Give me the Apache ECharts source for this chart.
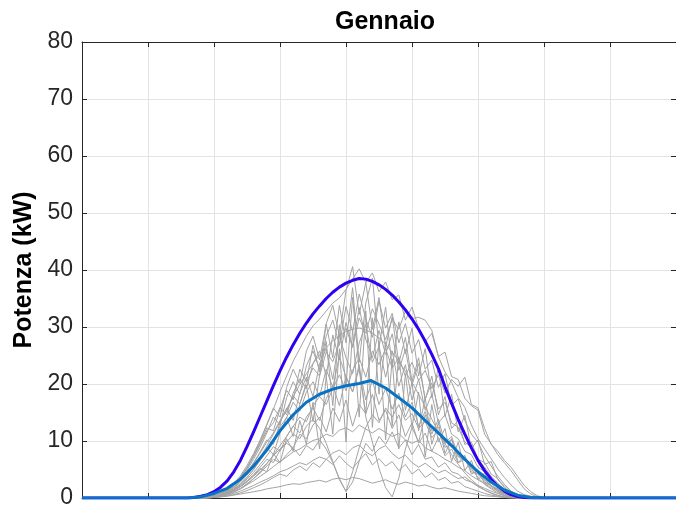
<!DOCTYPE html>
<html>
<head>
<meta charset="utf-8">
<script src="https://cdn.jsdelivr.net/npm/echarts@6/dist/echarts.min.js"></script>
<style>
  html, body { margin: 0; padding: 0; background: #fff; }
  #chart { width: 676px; height: 513px; }
</style>
</head>
<body>
<div id="chart"></div>
<script>
// x is in axis units (one grid cell = 1), y in kW
const TIME = [];
for (let i = 0; i < 57; i++) TIME.push(+(1.6 + i * 0.1).toFixed(2));

// envelope (purple), one value per TIME step from 1.6 to 6.9, then flat zero
const ENV_T = [0].concat(TIME.slice(0, 54), [9]);
const ENV_V = [0,
  0, 0.1, 0.3, 0.6, 1.1, 1.9, 3.0, 4.6, 6.6, 9.0,
  11.6, 14.3, 17.0, 19.7, 22.3, 24.7, 26.9, 28.9, 30.7, 32.3,
  33.7, 35.0, 36.1, 37.0, 37.7, 38.2, 38.5, 38.4, 38.0, 37.4,
  36.6, 35.6, 34.4, 33.0, 31.4, 29.6, 27.5, 25.2, 22.7, 19.5,
  16.6, 13.8, 11.2, 8.8, 6.6, 4.8, 3.3, 2.1, 1.2, 0.6,
  0.25, 0.08, 0.02, 0,
  0];
// mean day (blue)
const MEAN_T = [0, 1.6, 1.8, 2.0, 2.2, 2.4, 2.6, 2.8, 3.0, 3.2, 3.4, 3.6, 3.8, 4.0, 4.2, 4.38, 4.6, 4.8, 5.0, 5.2, 5.4, 5.6, 5.8, 6.0, 6.2, 6.4, 6.6, 6.8, 7.0, 9];
const MEAN_V = [0, 0, 0.2, 0.8, 1.7, 3.3, 5.6, 8.4, 11.8, 14.6, 16.8, 18.2, 19.1, 19.7, 20.1, 20.6, 19.3, 17.6, 15.8, 13.6, 11.4, 9.2, 6.8, 4.6, 2.8, 1.4, 0.5, 0.1, 0, 0];

// single days (gray), one value per TIME step
const G1 = [0,0,0,0.1,0.3,0.6,1.2,2.2,3.5,5.3, 7.5,10.0,12.8,15.6,18.6,21.4,24.0,26.2,28.4,30.2, 31.4,32.8,34.2,35.1,36.6,38.4,40.2,37.8,39.5,36.2, 37.9,34.8,35.6,31.2,33.5,29.8,27.4,28.9,24.8,22.1, 20.3,17.6,15.9,12.8,10.4,8.6,6.9,5.1,3.6,2.3, 1.2,0.6,0.3,0.1,0,0,0];
const G2 = [0,0,0.1,0.2,0.4,0.8,1.4,2.3,3.6,5.2, 7.4,9.6,12.3,11.8,15.6,18.9,17.2,22.6,20.4,26.8, 22.1,30.5,24.6,33.8,27.2,36.9,23.8,34.2,38.6,26.4, 33.5,22.8,30.9,25.3,29.8,21.4,26.2,17.6,22.9,14.3, 18.2,11.6,14.5,8.7,10.2,5.9,6.4,3.2,2.1,1.0, 0.4,0.1,0,0,0,0,0];
const G3 = [0,0,0,0.1,0.3,0.6,1.1,1.9,3.0,4.4, 6.1,7.9,9.8,11.4,13.6,15.2,17.9,16.5,20.3,22.8, 21.4,25.6,23.9,27.2,29.8,26.4,31.6,28.9,33.2,30.5, 27.8,31.4,29.6,32.8,31.5,31.7,31.2,29.4,24.8,25.6, 21.3,20.8,17.5,16.2,15.4,11.2,9.5,7.6,6.2,4.8, 3.2,1.6,0.7,0.2,0,0,0];
const G4 = [0,0,0,0.1,0.2,0.5,0.9,1.5,2.4,3.6, 5.0,6.8,8.9,7.6,11.4,14.2,10.8,16.5,19.8,13.4, 21.6,27.5,16.2,30.4,19.6,35.2,22.4,14.8,31.6,18.2, 27.4,12.6,24.8,15.4,20.2,11.8,17.6,9.4,13.2,7.8, 10.4,6.2,7.5,4.2,4.8,2.6,2.2,1.1,0.5,0.2, 0,0,0,0,0,0,0];
const G5 = [0,0,0,0.1,0.2,0.4,0.7,1.1,1.6,2.3, 3.0,3.8,4.6,5.5,6.4,7.2,8.1,8.6,9.4,10.1, 10.4,11.2,10.8,11.9,12.3,11.6,12.8,12.1,11.4,12.2, 11.5,10.8,11.3,10.2,9.6,10.1,8.8,8.2,7.6,6.8, 6.2,5.4,4.8,3.9,3.2,2.5,1.8,1.2,0.7,0.3, 0.1,0,0,0,0,0,0];
const G6 = [0,0,0,0,0.1,0.3,0.5,0.8,1.2,1.7, 2.2,2.8,3.3,3.9,4.6,5.0,5.6,6.2,5.8,6.6, 7.2,6.8,7.9,8.4,7.6,8.8,9.3,8.1,7.4,8.6, 9.2,7.8,6.9,7.5,6.2,5.4,6.1,5.2,4.4,4.9, 4.1,3.4,3.7,2.8,2.2,1.7,1.2,0.8,0.4,0.2, 0,0,0,0,0,0,0];
const G7 = [0,0,0,0,0.1,0.2,0.3,0.5,0.7,0.9, 1.1,1.3,1.6,1.8,2.0,2.3,2.5,2.4,2.7,2.9, 3.1,2.8,3.3,3.5,3.2,3.6,3.4,3.0,2.6,2.9, 3.2,2.7,2.4,2.8,2.5,2.1,2.3,1.9,1.6,1.8, 1.5,1.2,1.0,0.8,0.6,0.4,0.3,0.2,0.1,0, 0,0,0,0,0,0,0];
const G8 = [0,0,0,0.1,0.3,0.6,1.0,1.6,2.5,3.6, 5.0,6.6,8.4,10.2,12.5,14.1,16.8,15.2,18.6,20.4, 17.8,22.6,19.4,24.8,21.2,18.6,23.4,14.2,9.8,5.2, 1.8,0.2,3.5,8.6,12.4,9.8,14.6,11.2,13.8,9.6, 10.8,7.4,6.8,5.1,3.6,2.4,1.6,0.9,0.4,0.1, 0,0,0,0,0,0,0];
const G9 = [0,0,0,0.2,0.5,0.9,1.5,2.4,3.7,5.3, 7.2,9.4,11.8,13.2,15.9,14.6,18.4,20.9,19.2,23.6, 25.8,21.4,28.6,24.2,30.8,26.6,33.4,27.8,24.6,29.4, 25.2,28.8,22.4,26.1,19.8,23.6,17.4,20.2,15.6,16.8, 13.2,12.4,9.8,8.9,6.6,5.4,3.8,2.6,1.5,0.7, 0.2,0,0,0,0,0,0];
const G10 = [0,0,0,0.1,0.2,0.4,0.8,1.3,2.0,2.9, 3.8,4.9,6.1,7.4,8.6,9.8,11.2,10.4,12.6,13.8, 12.2,9.6,6.4,3.2,1.2,4.6,8.8,12.4,14.6,13.2, 15.8,14.2,16.4,13.6,14.8,12.2,13.4,10.6,11.8,8.9, 9.4,7.2,6.6,5.2,4.4,3.1,2.2,1.4,0.8,0.3, 0.1,0,0,0,0,0,0];
const G11 = [0,0,0,0,0.1,0.3,0.6,1.0,1.6,2.4, 3.4,4.6,6.0,7.5,9.2,10.8,12.6,14.2,13.4,16.2, 17.8,16.4,19.2,21.6,18.8,22.4,24.6,21.2,25.8,23.4, 26.2,22.8,24.6,21.4,23.8,20.6,22.4,19.2,21.6,18.4, 20.8,19.6,21.2,16.4,15.8,12.2,9.4,8.2,6.6,5.4, 3.8,2.2,1.1,0.4,0.1,0,0];
const G12 = [0,0,0,0.1,0.3,0.7,1.3,2.2,3.4,4.9, 6.8,8.9,11.4,14.2,12.8,17.6,20.4,18.2,23.2,25.8, 22.6,28.4,31.2,26.8,33.6,29.2,35.8,31.4,28.2,34.6, 29.8,32.4,27.2,30.6,25.4,27.8,22.6,24.2,19.4,21.8, 16.2,17.4,13.6,11.2,9.8,7.4,5.6,3.8,2.4,1.2, 0.5,0.1,0,0,0,0,0];
const G13 = [0,0,0,0.1,0.3,0.5,0.9,1.4,2.1,3.0, 4.1,5.4,6.8,6.2,8.4,9.6,8.8,11.2,10.4,12.8, 14.2,11.6,15.8,13.4,17.2,12.6,16.4,14.8,18.2,13.6, 15.4,12.2,14.6,10.8,13.2,9.6,11.4,8.2,10.6,7.4, 8.6,6.2,6.8,4.6,4.2,2.8,2.2,1.4,0.7,0.3, 0,0,0,0,0,0,0];
const G14 = [0,0,0,0,0.2,0.4,0.8,1.3,2.0,2.8, 3.9,5.2,4.6,7.8,6.2,10.4,8.2,13.6,9.4,16.8, 8.6,21.4,11.2,26.2,9.8,29.6,14.2,32.8,12.4,27.6, 10.2,24.4,8.6,21.8,12.4,18.6,7.2,16.4,9.8,12.2, 6.4,9.8,4.8,6.6,3.2,4.4,2.0,1.6,0.8,0.3, 0,0,0,0,0,0,0];
const G15 = [0,0,0,0.1,0.3,0.6,1.1,1.8,2.8,4.0, 5.5,7.2,9.1,11.2,13.4,15.6,17.8,19.9,21.8,23.6, 25.1,26.4,27.6,28.5,29.2,29.6,29.8,29.5,28.9,28.1, 27.0,25.6,24.0,22.2,20.3,18.2,16.0,13.8,11.6,9.5, 7.6,5.9,4.4,3.2,2.2,1.4,0.8,0.4,0.2,0.1, 0,0,0,0,0,0,0];
const G16 = [0,0,0,0,0.1,0.2,0.4,0.6,0.9,1.3, 1.8,2.3,2.9,3.6,4.2,3.8,4.9,5.6,4.8,6.2, 5.4,6.8,5.9,7.4,6.1,5.2,6.6,7.8,5.8,6.9, 5.6,6.4,4.8,5.9,4.2,5.1,3.6,4.4,3.1,3.6, 2.6,2.9,2.0,1.6,1.2,0.8,0.5,0.3,0.1,0, 0,0,0,0,0,0,0];
const G17 = [0,0,0,0.1,0.4,0.8,1.5,2.5,3.9,5.7, 7.8,10.2,12.9,15.8,14.2,19.4,22.6,20.1,25.8,28.4, 24.2,30.6,33.8,28.4,36.4,40.6,32.2,37.8,29.6,35.2, 26.4,31.8,23.6,28.2,20.4,24.6,17.2,21.4,14.6,17.8, 12.2,13.6,9.4,9.8,6.8,6.2,4.2,3.4,1.8,0.9, 0.3,0,0,0,0,0,0];
const G18 = [0,0,0,0.1,0.2,0.5,0.9,1.5,2.3,3.3, 4.5,5.9,7.4,9.0,8.2,10.8,12.6,11.4,14.2,15.8, 13.6,17.4,19.8,16.2,21.4,18.6,22.8,17.2,20.6,16.4, 19.2,15.6,18.4,14.2,16.8,12.6,15.2,11.8,12.4,9.6, 10.2,7.8,7.2,5.4,4.8,3.2,2.6,1.6,0.9,0.4, 0.1,0,0,0,0,0,0];
const G19 = [0,0,0,0.1,0.3,0.7,1.2,2.0,3.1,4.5, 6.2,8.1,10.2,9.4,13.2,15.8,13.6,18.4,21.2,17.8, 23.6,26.2,20.8,28.4,24.6,21.8,27.2,30.4,23.8,26.6, 21.2,25.8,19.6,23.4,17.2,20.8,15.4,18.2,13.2,14.6, 11.2,10.4,8.2,7.6,5.4,4.6,3.2,2.2,1.2,0.5, 0.1,0,0,0,0,0,0];
const G20 = [0,0,0,0,0.2,0.4,0.7,1.1,1.7,2.5, 3.4,4.4,5.6,6.8,6.2,7.6,8.8,7.4,9.2,8.4, 10.2,8.6,6.2,3.4,1.1,2.8,6.4,9.6,8.2,10.8, 9.4,11.6,8.8,10.2,7.6,9.4,6.8,7.2,5.4,6.2, 4.6,4.2,3.2,2.8,2.0,1.4,0.9,0.5,0.2,0.1, 0,0,0,0,0,0,0];
const DAYS = [G1, G2, G3, G4, G5, G6, G7, G8, G9, G10, G11, G12, G13, G14, G15, G16, G17, G18, G19, G20];

const Y_TICKS = [0, 10, 20, 30, 40, 50, 60, 70, 80];

const FONT = "'Liberation Sans', Arial, Helvetica, sans-serif";
const INK = "#262626";
const GRIDC = "#e3e3e3";

const zip = (xs, ys) => xs.map((x, i) => [x, ys[i]]);

const chart = echarts.init(document.getElementById("chart"), null, { renderer: "canvas" });

const axisX = (pos) => ({
  type: "value", position: pos, min: 0, max: 9, interval: 1,
  axisLine: { show: true, onZero: false, lineStyle: { color: INK, width: 1 } },
  axisTick: { show: true, inside: true, length: 5, lineStyle: { color: INK } },
  axisLabel: { show: false },
  splitLine: { show: pos === "bottom", lineStyle: { color: GRIDC, width: 1 } },
});
const axisY = (pos) => ({
  type: "value", position: pos, min: 0, max: 80, interval: 10,
  axisLine: { show: true, onZero: false, lineStyle: { color: INK, width: 1 } },
  axisTick: { show: true, inside: true, length: 5, lineStyle: { color: INK } },
  axisLabel: {
    show: pos === "left", color: INK, fontFamily: FONT, fontSize: 23, margin: 9,
    formatter: (v) => (Y_TICKS.includes(v) ? String(v) : ""),
  },
  splitLine: { show: pos === "left", lineStyle: { color: GRIDC, width: 1 } },
  name: pos === "left" ? "Potenza (kW)" : "",
  nameLocation: "middle", nameGap: 44,
  nameTextStyle: { color: "#000", fontFamily: FONT, fontSize: 25, fontWeight: "bold" },
});

const series = DAYS.map((d) => ({
  type: "line", data: zip(TIME, d),
  symbol: "none", silent: true,
  lineStyle: { color: "#a3a3a3", width: 1 },
}));
series.push({
  type: "line", data: zip(ENV_T, ENV_V), symbol: "none",
  lineStyle: { color: "#2f00f2", width: 3, join: "round" }, z: 3,
});
series.push({
  type: "line", data: zip(MEAN_T, MEAN_V), symbol: "none",
  lineStyle: { color: "#0a72c4", width: 3, join: "round" }, z: 4,
});

chart.setOption({
  animation: false,
  backgroundColor: "#fff",
  title: {
    text: "Gennaio", left: 380, top: 5, textAlign: "center",
    textStyle: { color: "#000", fontFamily: FONT, fontSize: 25, fontWeight: "bold" },
  },
  grid: { left: 82, top: 42, width: 598, height: 456 },
  xAxis: [axisX("bottom"), axisX("top")],
  yAxis: [axisY("left"), axisY("right")],
  series,
});
</script>
</body>
</html>
